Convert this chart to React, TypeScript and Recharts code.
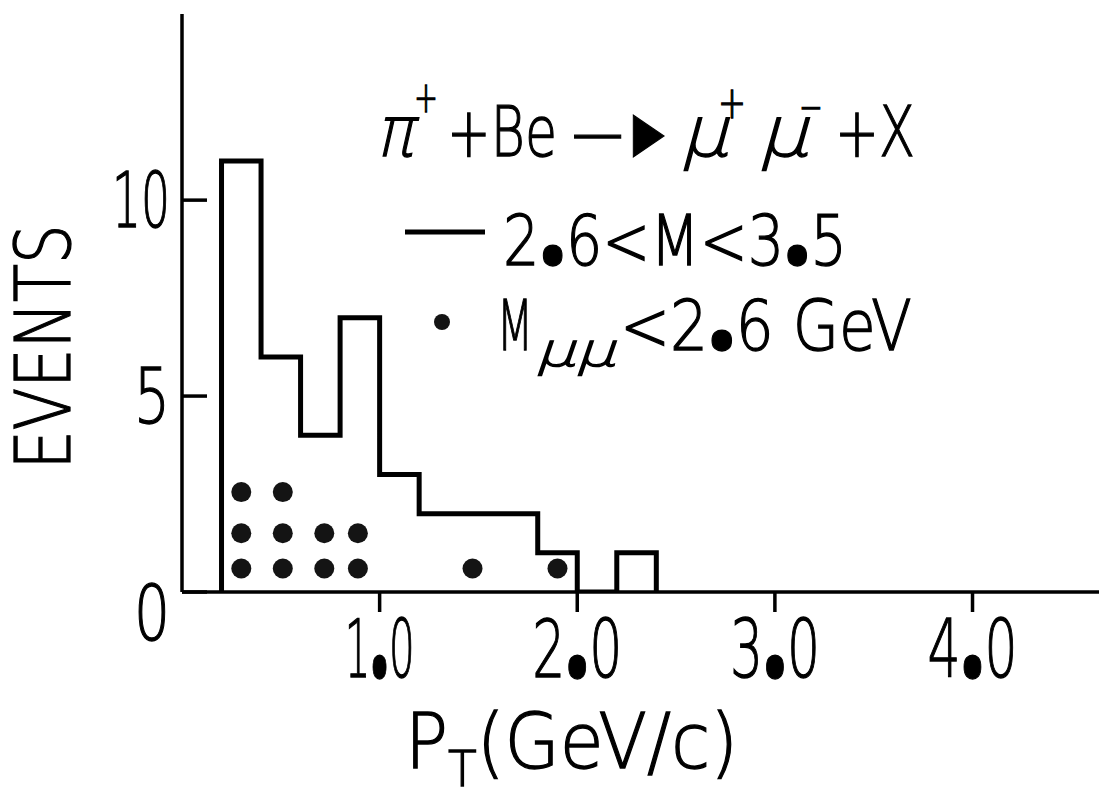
import { ComposedChart, Line, Scatter, XAxis, YAxis, Legend } from "recharts"

// histogram of 2.6 < M < 3.5 events, bins of 0.2 GeV/c
const binEdges = [0.2, 0.4, 0.6, 0.8, 1.0, 1.2, 1.4, 1.6, 1.8, 2.0, 2.2, 2.4]
const binCounts = [11, 6, 4, 7, 3, 2, 2, 2, 1, 0, 1]

// M_mumu < 2.6 GeV events, drawn as stacked dots
const dotPt = [0.3, 0.51, 0.3, 0.51, 0.72, 0.89, 0.3, 0.51, 0.72, 0.89, 1.47, 1.9]
const dotEvents = [2.55, 2.55, 1.5, 1.5, 1.5, 1.5, 0.6, 0.6, 0.6, 0.6, 0.6, 0.6]

const xTicks = [1, 2, 3, 4]
const xTickLabels = ["1.0", "2.0", "3.0", "4.0"]
const yTicks = [0, 5, 10]
const yTickLabels = ["0", "5", "10"]

const FONT = '"DejaVu Sans Light", "DejaVu Sans ExtraLight", "DejaVu Sans", sans-serif'
const WEIGHT = 200
// thin lettering, thickened a little with an outline
const INK = { fill: "#000", stroke: "#000", strokeWidth: 1.3 }

const histData = [
  { pt: binEdges[0], events: 0 },
  ...binCounts.map((c, i) => ({ pt: binEdges[i], events: c })),
  { pt: binEdges[binEdges.length - 1], events: 0 },
]
const dotData = dotPt.map((pt, i) => ({ pt, events: dotEvents[i] }))

// the lettering uses a big round decimal point
function Point() {
  return (
    <tspan fontFamily='"Open Sans", "Noto Sans", sans-serif' fontWeight={800} fontSize="1.6em">
      .
    </tspan>
  )
}

function DecimalText({ label }: { label: string }) {
  const parts = label.split(".")
  if (parts.length < 2) return <>{label}</>
  return (
    <>
      {parts[0]}
      <Point />
      {parts[1]}
    </>
  )
}

function XTick({ x, y, payload }: any) {
  const i = xTicks.indexOf(payload.value)
  const label = i >= 0 ? xTickLabels[i] : String(payload.value)
  return (
    <text
      {...INK}
      x={x}
      y={y + 65}
      textAnchor="middle"
      fontFamily={FONT}
      fontWeight={WEIGHT}
      fontSize={80}
      textLength={label.startsWith("1") ? 70 : 90}
      lengthAdjust="spacingAndGlyphs"
    >
      <DecimalText label={label} />
    </text>
  )
}

function YTick({ x, y, payload }: any) {
  const i = yTicks.indexOf(payload.value)
  const label = i >= 0 ? yTickLabels[i] : String(payload.value)
  const dy = payload.value === 0 ? 48 : 27
  return (
    <text
      {...INK}
      x={x}
      y={y + dy}
      textAnchor="end"
      fontFamily={FONT}
      fontWeight={WEIGHT}
      fontSize={76}
      textLength={label.length > 1 ? 58 : 36}
      lengthAdjust="spacingAndGlyphs"
    >
      {label}
    </text>
  )
}

function Dot({ cx, cy }: any) {
  return <circle cx={cx} cy={cy} r={10} fill="#141414" />
}

// reaction + key, laid out in page pixels and shifted into the legend box
function PlotKey() {
  const t = { ...INK, fontFamily: FONT, fontWeight: WEIGHT, lengthAdjust: "spacingAndGlyphs" } as any
  return (
    <svg width={600} height={320} style={{ display: "block", overflow: "visible" }}>
      <g transform="translate(-340,-80)">
        {/* pi+ + Be -> mu+ mu- + X */}
        <text {...t} x={375} y={156} fontSize={70} fontStyle="italic" textLength={38}>π</text>
        <text {...t} x={414} y={112} fontSize={42} textLength={24}>+</text>
        <text {...t} x={447} y={156} fontSize={70} textLength={110}>+Be</text>
        <text {...t} x={572} y={156} fontSize={70} textLength={102}>—►</text>
        <text {...t} x={680} y={156} fontSize={70} fontStyle="italic" textLength={48}>μ</text>
        <text {...t} x={718} y={118} fontSize={44} textLength={28}>+</text>
        <text {...t} x={758} y={156} fontSize={70} fontStyle="italic" textLength={50}>μ</text>
        <text {...t} x={799} y={122} fontSize={44} textLength={24}>−</text>
        <text {...t} x={835} y={156} fontSize={70} textLength={80}>+X</text>

        {/* histogram key */}
        <line x1={405} x2={485} y1={232} y2={232} stroke="#000" strokeWidth={5} />
        <text {...t} x={503} y={265} fontSize={70} textLength={344}>
          2<Point />6&lt;M&lt;3<Point />5
        </text>

        {/* dots key */}
        <circle cx={442} cy={322} r={8} fill="#141414" />
        <text {...t} x={497} y={350} fontSize={70} textLength={36}>M</text>
        <text {...t} x={535} y={366} fontSize={46} fontStyle="italic" textLength={80}>μμ</text>
        <text {...t} x={620} y={350} fontSize={70} textLength={292}>
          &lt;2<Point />6 GeV
        </text>
      </g>
    </svg>
  )
}

export default function App() {
  return (
    <div style={{ position: "absolute", left: 0, top: 0, width: 1099, height: 795, background: "#fff" }}>
      <ComposedChart width={1099} height={795} margin={{ top: 14, right: 0, bottom: 0, left: 0 }}>
        <XAxis
          type="number"
          dataKey="pt"
          domain={[0, 4.64]}
          ticks={xTicks}
          allowDataOverflow
          height={203}
          axisLine={{ stroke: "#000", strokeWidth: 3.5 }}
          tickLine={{ stroke: "#000", strokeWidth: 3.5 }}
          tickSize={20}
          tickMargin={0}
          tick={<XTick />}
        />
        <YAxis
          type="number"
          dataKey="events"
          domain={[0, 14.75]}
          ticks={yTicks}
          allowDataOverflow
          width={182}
          axisLine={{ stroke: "#000", strokeWidth: 3.5 }}
          tickLine={{ stroke: "#000", strokeWidth: 3.5 }}
          tickSize={-25}
          tickMargin={37}
          tick={<YTick />}
        />
        <Line
          data={histData}
          dataKey="events"
          type="stepAfter"
          stroke="#000"
          strokeWidth={5}
          dot={false}
          activeDot={false}
          isAnimationActive={false}
        />
        <Scatter data={dotData} dataKey="events" shape={<Dot />} isAnimationActive={false} />
        <Legend
          layout="horizontal"
          verticalAlign="middle"
          align="center"
          wrapperStyle={{ left: 340, top: 80 }}
          content={() => <PlotKey />}
        />
      </ComposedChart>
      {/* axis titles */}
      <svg width={1099} height={795} style={{ position: "absolute", left: 0, top: 0, pointerEvents: "none" }}>
        <text
          {...INK}
          x={70}
          y={347}
          transform="rotate(-90, 70, 347)"
          textAnchor="middle"
          fontFamily={FONT}
          fontWeight={WEIGHT}
          fontSize={76}
          textLength={245}
          lengthAdjust="spacingAndGlyphs"
        >
          EVENTS
        </text>
        <text
          {...INK}
          x={405}
          y={768}
          fontFamily={FONT}
          fontWeight={WEIGHT}
          fontSize={76}
          textLength={333}
          lengthAdjust="spacingAndGlyphs"
        >
          P<tspan fontSize={50} dy={18}>T</tspan>
          <tspan dy={-18}>(GeV/c)</tspan>
        </text>
      </svg>
    </div>
  )
}
